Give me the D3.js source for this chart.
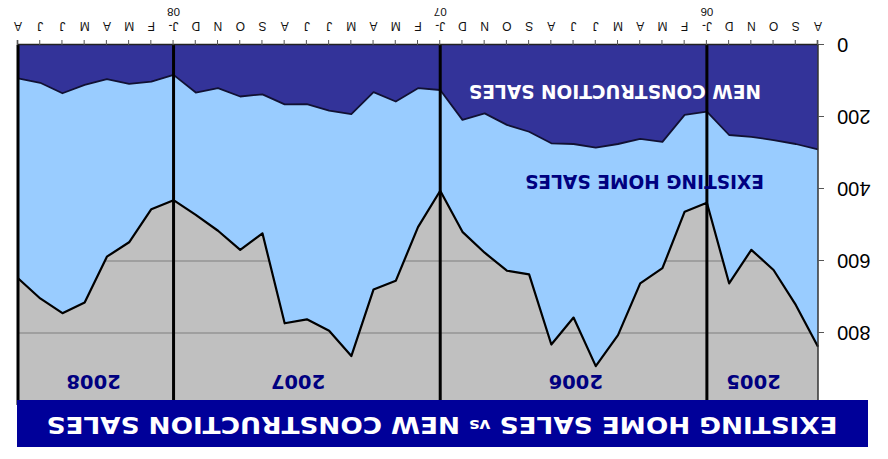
<!DOCTYPE html>
<html><head><meta charset="utf-8">
<script src="https://cdn.jsdelivr.net/npm/d3@7/dist/d3.min.js"></script>
<style>body{margin:0;background:#fff}svg{display:block}</style>
</head><body>
<svg id="c" width="888" height="459"></svg>
<script>
// ---- data (Aug 2005 .. Aug 2008) ----
const months = ["Aug-05","Sep-05","Oct-05","Nov-05","Dec-05",
  "Jan-06","Feb-06","Mar-06","Apr-06","May-06","Jun-06","Jul-06","Aug-06","Sep-06","Oct-06","Nov-06","Dec-06",
  "Jan-07","Feb-07","Mar-07","Apr-07","May-07","Jun-07","Jul-07","Aug-07","Sep-07","Oct-07","Nov-07","Dec-07",
  "Jan-08","Feb-08","Mar-08","Apr-08","May-08","Jun-08","Jul-08","Aug-08"];
const monthLetters = ["A","S","O","N","D",
  "J-","F","M","A","M","J","J","A","S","O","N","D",
  "J-","F","M","A","M","J","J","A","S","O","N","D",
  "J-","F","M","A","M","J","J","A"];
const yearSuffixes = ["","","","","","06","","","","","","","","","","","","07","","","","","","","","","","","","08","","","","","","",""];
const newConstruction = [290,275,264,255,250,185,194,269,261,275,285,275,273,241,222,190,208,
  125,120,157,131,192,182,164,165,137,143,120,132,83,102,108,95,111,134,105,93];
const existingHome = [548,447,361,314,412,253,269,351,401,531,607,482,559,396,405,387,311,
  280,386,498,548,672,612,598,608,386,426,396,340,348,354,440,493,604,611,599,555];
const yearNames = ["2005","2006","2007","2008"];
const dividerMonths = ["Jan-06","Jan-07","Jan-08"];
const yTicks = [0,200,400,600,800];
const titleText = ["EXISTING HOME SALES ","vs"," NEW CONSTRUCTION SALES"];

// ---- layout ----
const W = 888, H = 459;
const svg = d3.select("#c");
svg.append("rect").attr("width", W).attr("height", H).attr("fill", "#fff");
const g = svg.append("g").attr("transform", `rotate(180 ${W/2} ${H/2})`);

const x = d3.scalePoint().domain(months).range([70, 870]);
const y = d3.scaleLinear().domain([0, 1000]).range([414, 54]);
const xi = d3.scaleLinear().domain([0, months.length - 1]).range([70, 870]);

// plot background
g.append("rect").attr("x", 70).attr("y", y(1000)).attr("width", 800).attr("height", y(0) - y(1000)).attr("fill", "#C0C0C0");

// gridlines
g.append("g").selectAll("line").data(yTicks.filter(d => d > 0)).join("line")
  .attr("x1", 70).attr("x2", 870).attr("y1", d => y(d)).attr("y2", d => y(d))
  .attr("stroke", "#7f7f7f").attr("stroke-width", 1);

// stacked data
const rows = months.map((m, i) => ({m, newC: newConstruction[i], exist: existingHome[i]}));
const stack = d3.stack().keys(["newC", "exist"])(rows);
const area = d3.area().x(d => x(d.data.m)).y0(d => y(d[0])).y1(d => y(d[1]));
const line = d3.line().x(d => x(d.data.m)).y(d => y(d[1]));
g.append("path").datum(stack[1]).attr("d", area).attr("fill", "#99CCFF");
g.append("path").datum(stack[0]).attr("d", area).attr("fill", "#333399");
g.append("path").datum(stack[0]).attr("d", line).attr("fill", "none").attr("stroke", "#111133").attr("stroke-width", 1.8).attr("stroke-linejoin", "round");
g.append("path").datum(stack[1]).attr("d", line).attr("fill", "none").attr("stroke", "#000").attr("stroke-width", 2.2).attr("stroke-linejoin", "round");

// year dividers and right border
g.append("g").selectAll("line").data(dividerMonths).join("line")
  .attr("x1", d => x(d)).attr("x2", d => x(d)).attr("y1", y(0)).attr("y2", 52)
  .attr("stroke", "#000").attr("stroke-width", 3);
g.append("line").attr("x1", 870).attr("x2", 870).attr("y1", y(0)).attr("y2", y(1000)).attr("stroke", "#000").attr("stroke-width", 3);

// y axis
const yAxis = d3.axisLeft(y).tickValues(yTicks).tickSize(6).tickPadding(13);
const ya = g.append("g").attr("transform", "translate(70,0)").call(yAxis);
ya.select(".domain").attr("stroke", "#333").attr("stroke-width", 1.5).attr("d", `M0,${y(0)}V${y(1000)}`);
ya.selectAll(".tick line").attr("stroke", "#555");
ya.selectAll(".tick text").attr("font-family", "Liberation Sans, Arial, sans-serif").attr("font-size", 20).attr("fill", "#000");

// x axis
const xAxis = d3.axisBottom(x).tickSize(5).tickFormat(() => "");
const xa = g.append("g").attr("transform", `translate(0,${y(0)})`).call(xAxis);
xa.select(".domain").attr("stroke", "#222").attr("stroke-width", 1.5);
xa.selectAll(".tick line").attr("stroke", "#555");
const lab = g.append("g").attr("font-family", "Liberation Sans, Arial, sans-serif").attr("font-size", 12).attr("fill", "#111").attr("text-anchor", "middle");
lab.selectAll("text.m").data(months).join("text").attr("class", "m")
  .attr("x", (d) => x(d)).attr("y", 437.5).text((d, i) => monthLetters[i]);
lab.selectAll("text.yy").data(months.filter((d, i) => yearSuffixes[i])).join("text").attr("class", "yy")
  .attr("x", d => x(d)).attr("y", 451.5).attr("font-size", 11.5).text(d => yearSuffixes[months.indexOf(d)]);

// year labels
const yearPos = [2.9, 10.9, 23.4, 32.6];
g.append("g").selectAll("text").data(yearNames).join("text")
  .attr("x", (d, i) => xi(yearPos[i])).attr("y", 84).attr("text-anchor", "middle")
  .attr("font-family", "DejaVu Sans, Verdana, sans-serif").attr("font-weight", "bold").attr("font-size", 19.5)
  .attr("fill", "#000080").text(d => d);

// series labels
g.append("text").attr("x", 273).attr("y", 374).attr("text-anchor", "middle")
  .attr("font-family", "DejaVu Sans, Verdana, sans-serif").attr("font-weight", "bold").attr("font-size", 19)
  .attr("fill", "#fff").attr("textLength", 292).attr("lengthAdjust", "spacingAndGlyphs").text("NEW CONSTRUCTION SALES");
g.append("text").attr("x", 243.5).attr("y", 284).attr("text-anchor", "middle")
  .attr("font-family", "DejaVu Sans, Verdana, sans-serif").attr("font-weight", "bold").attr("font-size", 19.5)
  .attr("fill", "#000080").attr("textLength", 239).attr("lengthAdjust", "spacingAndGlyphs").text("EXISTING HOME SALES");

// title bar
g.append("rect").attr("x", 20).attr("y", 12).attr("width", 851).attr("height", 47).attr("fill", "#000099");
const tt = g.append("text").attr("x", 446).attr("y", 42.3).attr("text-anchor", "middle")
  .attr("font-family", "DejaVu Sans, Verdana, sans-serif").attr("font-weight", "bold").attr("font-size", 23)
  .attr("fill", "#fff").attr("textLength", 791).attr("lengthAdjust", "spacingAndGlyphs");
tt.append("tspan").text(titleText[0]);
tt.append("tspan").attr("font-size", 15).attr("dy", -3).text(titleText[1]);
tt.append("tspan").attr("dy", 3).text(titleText[2]);
</script>
</body></html>
